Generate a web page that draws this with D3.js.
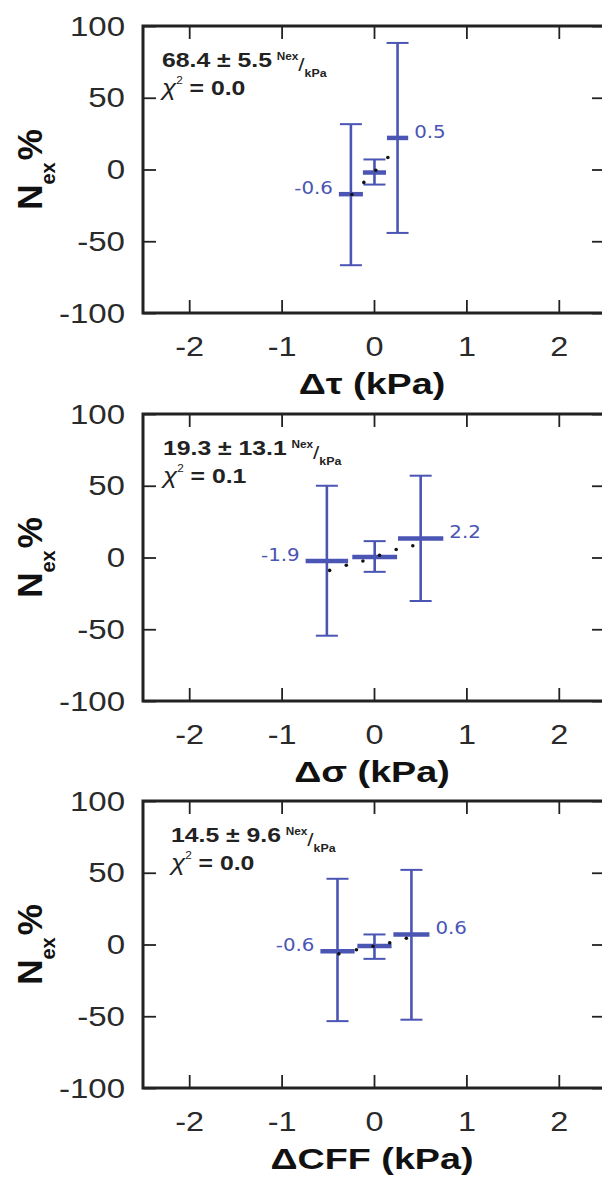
<!DOCTYPE html>
<html><head><meta charset="utf-8">
<script src="https://cdn.jsdelivr.net/npm/d3@7"></script>
<style>body{margin:0;background:#fff} svg{display:block}</style>
</head><body>
<svg id="chart" width="602" height="1183"></svg>
<script>
// ---------- data ----------
const xTitles = ["Δτ (kPa)", "Δσ (kPa)", "ΔCFF (kPa)"];
const slopeText = ["68.4 ± 5.5", "19.3 ± 13.1", "14.5 ± 9.6"];
const chiText = ["0.0", "0.1", "0.0"];
const xTicks = [-2, -1, 0, 1, 2];
const yTicks = [-100, -50, 0, 50, 100];
const xDomain = [-2.5, 2.5];
const yDomain = [-100, 100];

const binLo  = [[-0.38, -0.12, 0.14], [-0.74, -0.235, 0.26], [-0.58, -0.18, 0.21]];
const binHi  = [[-0.12, 0.13, 0.37], [-0.28, 0.25, 0.75], [-0.21, 0.19, 0.60]];
const binMean = [[-17.2, -2.1, 22], [-2.4, 0.4, 13.3], [-4.7, -1, 7]];
const errHigh = [[31.6, 7, 88.2], [50, 11.4, 57], [45.8, 7, 52]];
const errLow  = [[-66.7, -10.5, -44.2], [-54.5, -10, -30.3], [-53.4, -10, -52.4]];
const edgeLabels = [["-0.6", "0.5"], ["-1.9", "2.2"], ["-0.6", "0.6"]];
const fitX = [[-0.24, -0.11, 0.02, 0.15], [-0.48, -0.3, -0.12, 0.06, 0.24, 0.42], [-0.38, -0.19, -0.01, 0.17, 0.35]];
const fitY = [[-17.4, -9, -0.5, 8.4], [-9, -5.4, -2.4, 1.6, 5.6, 8.2], [-6.5, -3.7, -1.2, 1.2, 4.4]];

// ---------- layout ----------
const panelTop = [26, 414, 801];
const panelH = 287;
const left = 143, right = 605;
const annX = [162, 163, 171];
const blue = "#4a55b4";
const ink = "#222";
const sans = "'Liberation Sans', Arial, Helvetica, sans-serif";
const fmt = d => String(d);

const svg = d3.select("#chart");

panelTop.forEach((top, i) => {
  const g = svg.append("g");
  const x = d3.scaleLinear().domain(xDomain).range([left, right]);
  const y = d3.scaleLinear().domain(yDomain).range([top + panelH, top]);
  const capHalf = 11;

  const styleTicks = sel => {
    sel.select(".domain").remove();
    sel.selectAll(".tick line").attr("stroke", ink).attr("stroke-width", 1.8);
  };
  const bx = g.append("g").attr("transform", `translate(0,${top + panelH})`)
    .call(d3.axisBottom(x).tickValues(xTicks).tickSize(-13).tickFormat(fmt))
    .call(styleTicks);
  bx.selectAll(".tick text")
    .attr("y", null).attr("dy", null)
    .attr("transform", "translate(0,43) scale(1.2,1)")
    .attr("font-family", sans).attr("font-size", 27).attr("fill", "#2a2a2a")
    .attr("text-anchor", "middle");
  g.append("g").attr("transform", `translate(0,${top})`)
    .call(d3.axisTop(x).tickValues(xTicks).tickSize(-13).tickFormat(""))
    .call(styleTicks);
  const ly = g.append("g").attr("transform", `translate(${left},0)`)
    .call(d3.axisLeft(y).tickValues(yTicks).tickSize(-13).tickFormat(fmt))
    .call(styleTicks);
  ly.selectAll(".tick text")
    .attr("x", null).attr("dy", null)
    .attr("transform", "translate(-18,9) scale(1.18,1)")
    .attr("font-family", sans).attr("font-size", 28).attr("fill", "#2a2a2a")
    .attr("text-anchor", "end");
  g.append("g").attr("transform", `translate(${right},0)`)
    .call(d3.axisRight(y).tickValues(yTicks).tickSize(-13).tickFormat(""))
    .call(styleTicks);
  g.selectAll(".tick text").filter(function(){ return this.textContent === ""; }).remove();

  // frame
  g.append("rect").attr("x", left).attr("y", top)
    .attr("width", right - left).attr("height", panelH)
    .attr("fill", "none").attr("stroke", ink).attr("stroke-width", 3);

  // error bars
  const bins = binMean[i].map((m, j) => ({
    lo: binLo[i][j], hi: binHi[i][j], mean: m,
    eh: errHigh[i][j], el: errLow[i][j]
  }));
  const eb = g.append("g").attr("stroke", blue).attr("fill", "none");
  bins.forEach(b => {
    const cx = x((b.lo + b.hi) / 2);
    eb.append("line").attr("x1", cx).attr("x2", cx)
      .attr("y1", y(b.eh)).attr("y2", y(b.el)).attr("stroke-width", 2.6);
    eb.append("line").attr("x1", cx - capHalf).attr("x2", cx + capHalf)
      .attr("y1", y(b.eh)).attr("y2", y(b.eh)).attr("stroke-width", 2);
    eb.append("line").attr("x1", cx - capHalf).attr("x2", cx + capHalf)
      .attr("y1", y(b.el)).attr("y2", y(b.el)).attr("stroke-width", 2);
    eb.append("line").attr("x1", x(b.lo)).attr("x2", x(b.hi))
      .attr("y1", y(b.mean)).attr("y2", y(b.mean)).attr("stroke-width", 4.5);
  });

  // fit points
  g.append("g").selectAll("circle")
    .data(fitX[i].map((v, k) => [v, fitY[i][k]]))
    .join("circle")
    .attr("cx", d => x(d[0])).attr("cy", d => y(d[1]))
    .attr("r", 1.8).attr("fill", "#111");

  // edge labels
  const first = bins[0], last = bins[bins.length - 1];
  g.append("text")
    .attr("transform", `translate(${x(first.lo) - 6},${y(first.mean)}) scale(1.1,1)`)
    .attr("text-anchor", "end").attr("font-family", "'DejaVu Sans', sans-serif")
    .attr("font-size", 18).attr("fill", blue).text(edgeLabels[i][0]);
  g.append("text")
    .attr("transform", `translate(${x(last.hi) + 6},${y(last.mean)}) scale(1.1,1)`)
    .attr("text-anchor", "start").attr("font-family", "'DejaVu Sans', sans-serif")
    .attr("font-size", 18).attr("fill", blue).text(edgeLabels[i][1]);

  // annotation
  const a1 = g.append("text")
    .attr("transform", `translate(${annX[i]},${top + 41}) scale(1.18,1)`)
    .attr("font-family", sans).attr("font-weight", "bold").attr("fill", ink);
  a1.append("tspan").attr("font-size", 21).text(slopeText[i]);
  a1.append("tspan").attr("font-size", 10).attr("dx", 4).attr("dy", -7).text("Nex");
  a1.append("tspan").attr("font-size", 19).attr("font-weight", "normal").attr("dy", 11).text("/");
  a1.append("tspan").attr("font-size", 10.5).attr("dy", 6).text("kPa");

  const a2 = g.append("text")
    .attr("transform", `translate(${annX[i]},${top + 69}) scale(1.18,1)`)
    .attr("font-family", sans).attr("fill", ink);
  a2.append("tspan").attr("font-size", 22).attr("font-style", "italic").text("χ");
  a2.append("tspan").attr("font-size", 10).attr("dy", -11).text("2");
  a2.append("tspan").attr("font-size", 21).attr("font-weight", "bold").attr("dy", 11).text(" = " + chiText[i]);

  // x title
  g.append("text")
    .attr("transform", `translate(372,${top + panelH + 81}) scale(1.3,1)`)
    .attr("text-anchor", "middle").attr("font-family", sans)
    .attr("font-weight", "bold").attr("font-size", 29).attr("fill", "#111")
    .text(xTitles[i]);

  // y title
  const yt = g.append("text")
    .attr("transform", `translate(42,${top + panelH / 2}) rotate(-90)`)
    .attr("text-anchor", "middle").attr("font-family", sans)
    .attr("font-weight", "bold").attr("fill", "#111");
  yt.append("tspan").attr("font-size", 35).text("N");
  yt.append("tspan").attr("font-size", 20).attr("dy", 13).text("ex");
  yt.append("tspan").attr("font-size", 35).attr("dy", -13).attr("dx", 2).text("%");
});
</script>
</body></html>
